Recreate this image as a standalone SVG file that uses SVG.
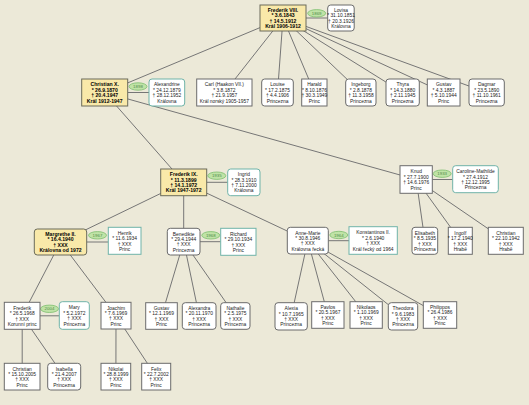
<svg xmlns="http://www.w3.org/2000/svg" width="529" height="405" viewBox="0 0 529 405">
<style>
.bg{fill:#ECE9D8}
.c line{stroke:#767676;stroke-width:1}
.m{fill:#fff;stroke:#6b6b6b;stroke-width:1}
.f{fill:#fff;stroke:#6b6b6b;stroke-width:1}
.sm{fill:#fff;stroke:#6fb3a8;stroke-width:1}
.sf{fill:#fff;stroke:#6fb3a8;stroke-width:1}
.k{fill:#F9E9A9;stroke:#6b6b5a;stroke-width:1}
.o{fill:#BFE3A6;stroke:#7DBE6E;stroke-width:0.8}
text{font-family:"Liberation Sans",Arial,sans-serif;font-size:4.9px;fill:#1a1a1a;text-anchor:middle}
.b{font-weight:bold;font-size:5.1px;fill:#000}
.ot{font-size:4.4px;fill:#4f8a47}
</style>
<rect class="bg" x="0" y="0" width="529" height="405"/>
<g id="connectors" class="c">
<line x1="283" y1="18" x2="104.7" y2="92.5"/>
<line x1="283" y1="18" x2="224.4" y2="92.5"/>
<line x1="283" y1="18" x2="277.5" y2="92.5"/>
<line x1="283" y1="18" x2="314.4" y2="92.5"/>
<line x1="283" y1="18" x2="360.9" y2="92.5"/>
<line x1="283" y1="18" x2="402.7" y2="92.5"/>
<line x1="283" y1="18" x2="443.7" y2="92.5"/>
<line x1="283" y1="18" x2="486.7" y2="92.5"/>
<line x1="104.7" y1="92.5" x2="183.7" y2="182.3"/>
<line x1="104.7" y1="92.5" x2="416.2" y2="179.5"/>
<line x1="183.7" y1="182.3" x2="60.5" y2="242"/>
<line x1="183.7" y1="182.3" x2="183.7" y2="241.7"/>
<line x1="183.7" y1="182.3" x2="307.8" y2="240.7"/>
<line x1="416.2" y1="179.5" x2="424.9" y2="240.8"/>
<line x1="416.2" y1="179.5" x2="460.3" y2="240.8"/>
<line x1="416.2" y1="179.5" x2="505.8" y2="240.8"/>
<line x1="60.5" y1="242" x2="22.2" y2="315.8"/>
<line x1="60.5" y1="242" x2="116" y2="315.7"/>
<line x1="183.7" y1="241.7" x2="161.5" y2="316"/>
<line x1="183.7" y1="241.7" x2="199.2" y2="316"/>
<line x1="183.7" y1="241.7" x2="235.4" y2="316"/>
<line x1="307.8" y1="240.7" x2="291.2" y2="316.3"/>
<line x1="307.8" y1="240.7" x2="327.9" y2="315"/>
<line x1="307.8" y1="240.7" x2="366.2" y2="315"/>
<line x1="307.8" y1="240.7" x2="403" y2="316.3"/>
<line x1="307.8" y1="240.7" x2="440" y2="315"/>
<line x1="22.2" y1="315.8" x2="22.2" y2="376.7"/>
<line x1="22.2" y1="315.8" x2="64.2" y2="376.7"/>
<line x1="116" y1="315.7" x2="115.9" y2="376.7"/>
<line x1="116" y1="315.7" x2="156.2" y2="376.7"/>
<line x1="306" y1="18" x2="327.7" y2="18"/>
<line x1="127.7" y1="92.5" x2="149" y2="92.5"/>
<line x1="206.7" y1="182.3" x2="227.7" y2="182.3"/>
<line x1="432.3" y1="179.5" x2="452.7" y2="179.5"/>
<line x1="86.7" y1="242" x2="108.3" y2="242"/>
<line x1="200" y1="241.7" x2="220.7" y2="241.7"/>
<line x1="328.3" y1="240.7" x2="349" y2="240.7"/>
<line x1="40" y1="315.8" x2="59.3" y2="315.8"/>
</g>
<g id="marriages">
<g id="m1869"><ellipse class="o" cx="316.7" cy="13.3" rx="9" ry="3.7"/><text class="ot" x="316.7" y="14.9">1869</text></g>
<g id="m1898"><ellipse class="o" cx="138" cy="86.5" rx="9" ry="3.7"/><text class="ot" x="138" y="88.1">1898</text></g>
<g id="m1935"><ellipse class="o" cx="216.8" cy="175.7" rx="9" ry="3.7"/><text class="ot" x="216.8" y="177.3">1935</text></g>
<g id="m1933"><ellipse class="o" cx="442.2" cy="173.7" rx="9" ry="3.7"/><text class="ot" x="442.2" y="175.3">1933</text></g>
<g id="m1967"><ellipse class="o" cx="97.5" cy="235.3" rx="9" ry="3.7"/><text class="ot" x="97.5" y="236.9">1967</text></g>
<g id="m1968"><ellipse class="o" cx="210.8" cy="235.3" rx="9" ry="3.7"/><text class="ot" x="210.8" y="236.9">1968</text></g>
<g id="m1964"><ellipse class="o" cx="338.8" cy="235" rx="9" ry="3.7"/><text class="ot" x="338.8" y="236.6">1964</text></g>
<g id="m2004"><ellipse class="o" cx="49.5" cy="308.8" rx="9" ry="3.7"/><text class="ot" x="49.5" y="310.4">2004</text></g>
</g>
<g id="frederik8"><rect class="k" x="260" y="5" width="46" height="26"/><text class="b" x="283"><tspan x="283" y="11.9">Frederik VIII.</tspan><tspan x="283" y="17.3">* 3.6.1843</tspan><tspan x="283" y="22.7">† 14.5.1912</tspan><tspan x="283" y="28.1">Král 1906-1912</tspan></text></g>
<g id="lovisa"><rect class="f" x="327.7" y="5" width="26.5" height="26" rx="3"/><text x="341"><tspan x="341" y="11.9">Lovisa</tspan><tspan x="341" y="17.3">* 31.10.1851</tspan><tspan x="341" y="22.7">† 20.3.1926</tspan><tspan x="341" y="28.1">Královna</tspan></text></g>

<g id="christian10"><rect class="k" x="81.7" y="79" width="46" height="27"/><text class="b"><tspan x="104.7" y="86.4">Christian X.</tspan><tspan x="104.7" y="91.8">* 26.9.1870</tspan><tspan x="104.7" y="97.2">† 20.4.1947</tspan><tspan x="104.7" y="102.6">Král 1912-1947</tspan></text></g>
<g id="alexandrine"><rect class="sf" x="149" y="79" width="35.7" height="27" rx="3"/><text><tspan x="166.9" y="86.4">Alexandrine</tspan><tspan x="166.9" y="91.8">* 24.12.1879</tspan><tspan x="166.9" y="97.2">† 28.12.1952</tspan><tspan x="166.9" y="102.6">Královna</tspan></text></g>
<g id="carl"><rect class="m" x="196.7" y="79" width="55.3" height="27"/><text><tspan x="224.4" y="86.4">Carl (Haakon VII.)</tspan><tspan x="224.4" y="91.8">* 3.8.1872</tspan><tspan x="224.4" y="97.2">† 21.9.1957</tspan><tspan x="224.4" y="102.6">Král norský 1905-1957</tspan></text></g>
<g id="louise"><rect class="f" x="261.7" y="79" width="31.6" height="27" rx="3"/><text><tspan x="277.5" y="86.4">Louise</tspan><tspan x="277.5" y="91.8">* 17.2.1875</tspan><tspan x="277.5" y="97.2">† 4.4.1906</tspan><tspan x="277.5" y="102.6">Princezna</tspan></text></g>
<g id="harald"><rect class="m" x="301.7" y="79" width="25.3" height="27"/><text><tspan x="314.4" y="86.4">Harald</tspan><tspan x="314.4" y="91.8">* 8.10.1876</tspan><tspan x="314.4" y="97.2">† 30.3.1949</tspan><tspan x="314.4" y="102.6">Princ</tspan></text></g>
<g id="ingeborg"><rect class="f" x="345.7" y="79" width="30.3" height="27" rx="3"/><text><tspan x="360.9" y="86.4">Ingeborg</tspan><tspan x="360.9" y="91.8">* 2.8.1878</tspan><tspan x="360.9" y="97.2">† 11.3.1958</tspan><tspan x="360.9" y="102.6">Princezna</tspan></text></g>
<g id="thyra"><rect class="f" x="386" y="79" width="33.3" height="27" rx="3"/><text><tspan x="402.7" y="86.4">Thyra</tspan><tspan x="402.7" y="91.8">* 14.3.1880</tspan><tspan x="402.7" y="97.2">† 2.11.1945</tspan><tspan x="402.7" y="102.6">Princezna</tspan></text></g>
<g id="gustav1"><rect class="m" x="427.3" y="79" width="32.7" height="27"/><text><tspan x="443.7" y="86.4">Gustav</tspan><tspan x="443.7" y="91.8">* 4.3.1887</tspan><tspan x="443.7" y="97.2">† 5.10.1944</tspan><tspan x="443.7" y="102.6">Princ</tspan></text></g>
<g id="dagmar"><rect class="f" x="469" y="79" width="35.3" height="27" rx="3"/><text><tspan x="486.7" y="86.4">Dagmar</tspan><tspan x="486.7" y="91.8">* 23.5.1890</tspan><tspan x="486.7" y="97.2">† 11.10.1961</tspan><tspan x="486.7" y="102.6">Princezna</tspan></text></g>

<g id="frederik9"><rect class="k" x="160.7" y="169" width="46" height="26.7"/><text class="b"><tspan x="183.7" y="176.2">Frederik IX.</tspan><tspan x="183.7" y="181.6">* 11.3.1899</tspan><tspan x="183.7" y="187">† 14.1.1972</tspan><tspan x="183.7" y="192.4">Král 1947-1972</tspan></text></g>
<g id="ingrid"><rect class="sf" x="227.7" y="169" width="32.3" height="26.7" rx="3"/><text><tspan x="243.9" y="176.2">Ingrid</tspan><tspan x="243.9" y="181.6">* 28.3.1910</tspan><tspan x="243.9" y="187">† 7.11.2000</tspan><tspan x="243.9" y="192.4">Královna</tspan></text></g>
<g id="knud"><rect class="m" x="400" y="165.7" width="32.3" height="27.6"/><text><tspan x="416.2" y="173.4">Knud</tspan><tspan x="416.2" y="178.8">* 27.7.1900</tspan><tspan x="416.2" y="184.2">† 14.6.1976</tspan><tspan x="416.2" y="189.6">Princ</tspan></text></g>
<g id="carolinemathilde"><rect class="sf" x="452.7" y="165.7" width="45.6" height="27" rx="3"/><text><tspan x="475.5" y="173.1">Caroline-Mathilde</tspan><tspan x="475.5" y="178.5">* 27.4.1912</tspan><tspan x="475.5" y="183.9">† 12.12.1995</tspan><tspan x="475.5" y="189.3">Princezna</tspan></text></g>

<g id="margrethe"><rect class="k" x="34.3" y="229" width="52.4" height="26" rx="3"/><text class="b"><tspan x="60.5" y="235.9">Margrethe II.</tspan><tspan x="60.5" y="241.3">* 16.4.1940</tspan><tspan x="60.5" y="246.7">† XXX</tspan><tspan x="60.5" y="252.1">Královna od 1972</tspan></text></g>
<g id="henrik"><rect class="sm" x="108.3" y="227.3" width="32.7" height="27"/><text><tspan x="124.7" y="234.7">Henrik</tspan><tspan x="124.7" y="240.1">* 11.6.1934</tspan><tspan x="124.7" y="245.5">† XXX</tspan><tspan x="124.7" y="250.9">Princ</tspan></text></g>
<g id="benedikte"><rect class="f" x="167.3" y="228.3" width="32.7" height="26.7" rx="3"/><text><tspan x="183.7" y="235.6">Benedikte</tspan><tspan x="183.7" y="241">* 29.4.1944</tspan><tspan x="183.7" y="246.4">† XXX</tspan><tspan x="183.7" y="251.8">Princezna</tspan></text></g>
<g id="richard"><rect class="sm" x="220.7" y="228.3" width="35.3" height="27"/><text><tspan x="238.4" y="235.7">Richard</tspan><tspan x="238.4" y="241.1">* 29.10.1934</tspan><tspan x="238.4" y="246.5">† XXX</tspan><tspan x="238.4" y="251.9">Princ</tspan></text></g>
<g id="annemarie"><rect class="f" x="287.3" y="227.3" width="41" height="26.7" rx="3"/><text><tspan x="307.8" y="234.6">Anne-Marie</tspan><tspan x="307.8" y="240">* 30.8.1946</tspan><tspan x="307.8" y="245.4">† XXX</tspan><tspan x="307.8" y="250.8">Královna řecká</tspan></text></g>
<g id="konstantinos"><rect class="sm" x="349" y="226.7" width="48.3" height="27.6"/><text><tspan x="373.2" y="234.4">Konstantinos II.</tspan><tspan x="373.2" y="239.8">* 2.6.1940</tspan><tspan x="373.2" y="245.2">† XXX</tspan><tspan x="373.2" y="250.6">Král řecký od 1964</tspan></text></g>
<g id="elisabeth"><rect class="f" x="412" y="227.3" width="25.7" height="27" rx="3"/><text><tspan x="424.9" y="234.7">Elisabeth</tspan><tspan x="424.9" y="240.1">* 8.5.1935</tspan><tspan x="424.9" y="245.5">† XXX</tspan><tspan x="424.9" y="250.9">Princezna</tspan></text></g>
<g id="ingolf"><rect class="m" x="448.3" y="227.3" width="24" height="27"/><text><tspan x="460.3" y="234.7">Ingolf</tspan><tspan x="460.3" y="240.1">* 17.2.1940</tspan><tspan x="460.3" y="245.5">† XXX</tspan><tspan x="460.3" y="250.9">Hrabě</tspan></text></g>
<g id="christian2"><rect class="m" x="488.3" y="227.3" width="35" height="27"/><text><tspan x="505.8" y="234.7">Christian</tspan><tspan x="505.8" y="240.1">* 22.10.1942</tspan><tspan x="505.8" y="245.5">† XXX</tspan><tspan x="505.8" y="250.9">Hrabě</tspan></text></g>

<g id="frederik"><rect class="m" x="4.3" y="302.3" width="35.7" height="27"/><text><tspan x="22.2" y="309.7">Frederik</tspan><tspan x="22.2" y="315.1">* 26.5.1968</tspan><tspan x="22.2" y="320.5">† XXX</tspan><tspan x="22.2" y="325.9">Korunní princ</tspan></text></g>
<g id="mary"><rect class="sf" x="59.3" y="301.7" width="30" height="27.6" rx="3"/><text><tspan x="74.3" y="309.4">Mary</tspan><tspan x="74.3" y="314.8">* 5.2.1972</tspan><tspan x="74.3" y="320.2">† XXX</tspan><tspan x="74.3" y="325.6">Princezna</tspan></text></g>
<g id="joachim"><rect class="m" x="101" y="302.3" width="30" height="26.7"/><text><tspan x="116" y="309.6">Joachim</tspan><tspan x="116" y="315">* 7.6.1969</tspan><tspan x="116" y="320.4">† XXX</tspan><tspan x="116" y="325.8">Princ</tspan></text></g>
<g id="gustav2"><rect class="m" x="145.7" y="302.7" width="31.6" height="26.6"/><text><tspan x="161.5" y="309.9">Gustav</tspan><tspan x="161.5" y="315.3">* 12.1.1969</tspan><tspan x="161.5" y="320.7">† XXX</tspan><tspan x="161.5" y="326.1">Princ</tspan></text></g>
<g id="alexandra"><rect class="f" x="182.3" y="302.7" width="33.7" height="26.6" rx="3"/><text><tspan x="199.2" y="309.9">Alexandra</tspan><tspan x="199.2" y="315.3">* 20.11.1970</tspan><tspan x="199.2" y="320.7">† XXX</tspan><tspan x="199.2" y="326.1">Princezna</tspan></text></g>
<g id="nathalie"><rect class="f" x="220.7" y="302.7" width="29.3" height="26.6" rx="3"/><text><tspan x="235.4" y="309.9">Nathalie</tspan><tspan x="235.4" y="315.3">* 2.5.1975</tspan><tspan x="235.4" y="320.7">† XXX</tspan><tspan x="235.4" y="326.1">Princezna</tspan></text></g>
<g id="alexia"><rect class="f" x="275" y="302.7" width="32.3" height="27.3" rx="3"/><text><tspan x="291.2" y="310.2">Alexia</tspan><tspan x="291.2" y="315.6">* 10.7.1965</tspan><tspan x="291.2" y="321">† XXX</tspan><tspan x="291.2" y="326.4">Princezna</tspan></text></g>
<g id="pavlos"><rect class="m" x="311.7" y="301.7" width="32.3" height="26.6"/><text><tspan x="327.9" y="308.9">Pavlos</tspan><tspan x="327.9" y="314.3">* 20.5.1967</tspan><tspan x="327.9" y="319.7">† XXX</tspan><tspan x="327.9" y="325.1">Princ</tspan></text></g>
<g id="nikolaos"><rect class="m" x="350" y="301.7" width="32.3" height="26.6"/><text><tspan x="366.2" y="308.9">Nikolaos</tspan><tspan x="366.2" y="314.3">* 1.10.1969</tspan><tspan x="366.2" y="319.7">† XXX</tspan><tspan x="366.2" y="325.1">Princ</tspan></text></g>
<g id="theodora"><rect class="f" x="388.3" y="302.7" width="29.4" height="27.3" rx="3"/><text><tspan x="403" y="310.2">Theodora</tspan><tspan x="403" y="315.6">* 9.6.1983</tspan><tspan x="403" y="321">† XXX</tspan><tspan x="403" y="326.4">Princezna</tspan></text></g>
<g id="philippos"><rect class="m" x="423.3" y="301.7" width="33.4" height="26.6"/><text><tspan x="440" y="308.9">Philippos</tspan><tspan x="440" y="314.3">* 26.4.1986</tspan><tspan x="440" y="319.7">† XXX</tspan><tspan x="440" y="325.1">Princ</tspan></text></g>

<g id="christian3"><rect class="m" x="4.3" y="363.3" width="35.7" height="26.7"/><text><tspan x="22.2" y="370.6">Christian</tspan><tspan x="22.2" y="376">* 15.10.2005</tspan><tspan x="22.2" y="381.4">† XXX</tspan><tspan x="22.2" y="386.8">Princ</tspan></text></g>
<g id="isabella"><rect class="f" x="47.7" y="363.3" width="33" height="26.7" rx="3"/><text><tspan x="64.2" y="370.6">Isabella</tspan><tspan x="64.2" y="376">* 21.4.2007</tspan><tspan x="64.2" y="381.4">† XXX</tspan><tspan x="64.2" y="386.8">Princezna</tspan></text></g>
<g id="nikolai"><rect class="m" x="101" y="363.3" width="29.7" height="26.7"/><text><tspan x="115.9" y="370.6">Nikolai</tspan><tspan x="115.9" y="376">* 28.8.1999</tspan><tspan x="115.9" y="381.4">† XXX</tspan><tspan x="115.9" y="386.8">Princ</tspan></text></g>
<g id="felix"><rect class="m" x="141.7" y="363.3" width="29" height="26.7"/><text><tspan x="156.2" y="370.6">Felix</tspan><tspan x="156.2" y="376">* 22.7.2002</tspan><tspan x="156.2" y="381.4">† XXX</tspan><tspan x="156.2" y="386.8">Princ</tspan></text></g>
</svg>
